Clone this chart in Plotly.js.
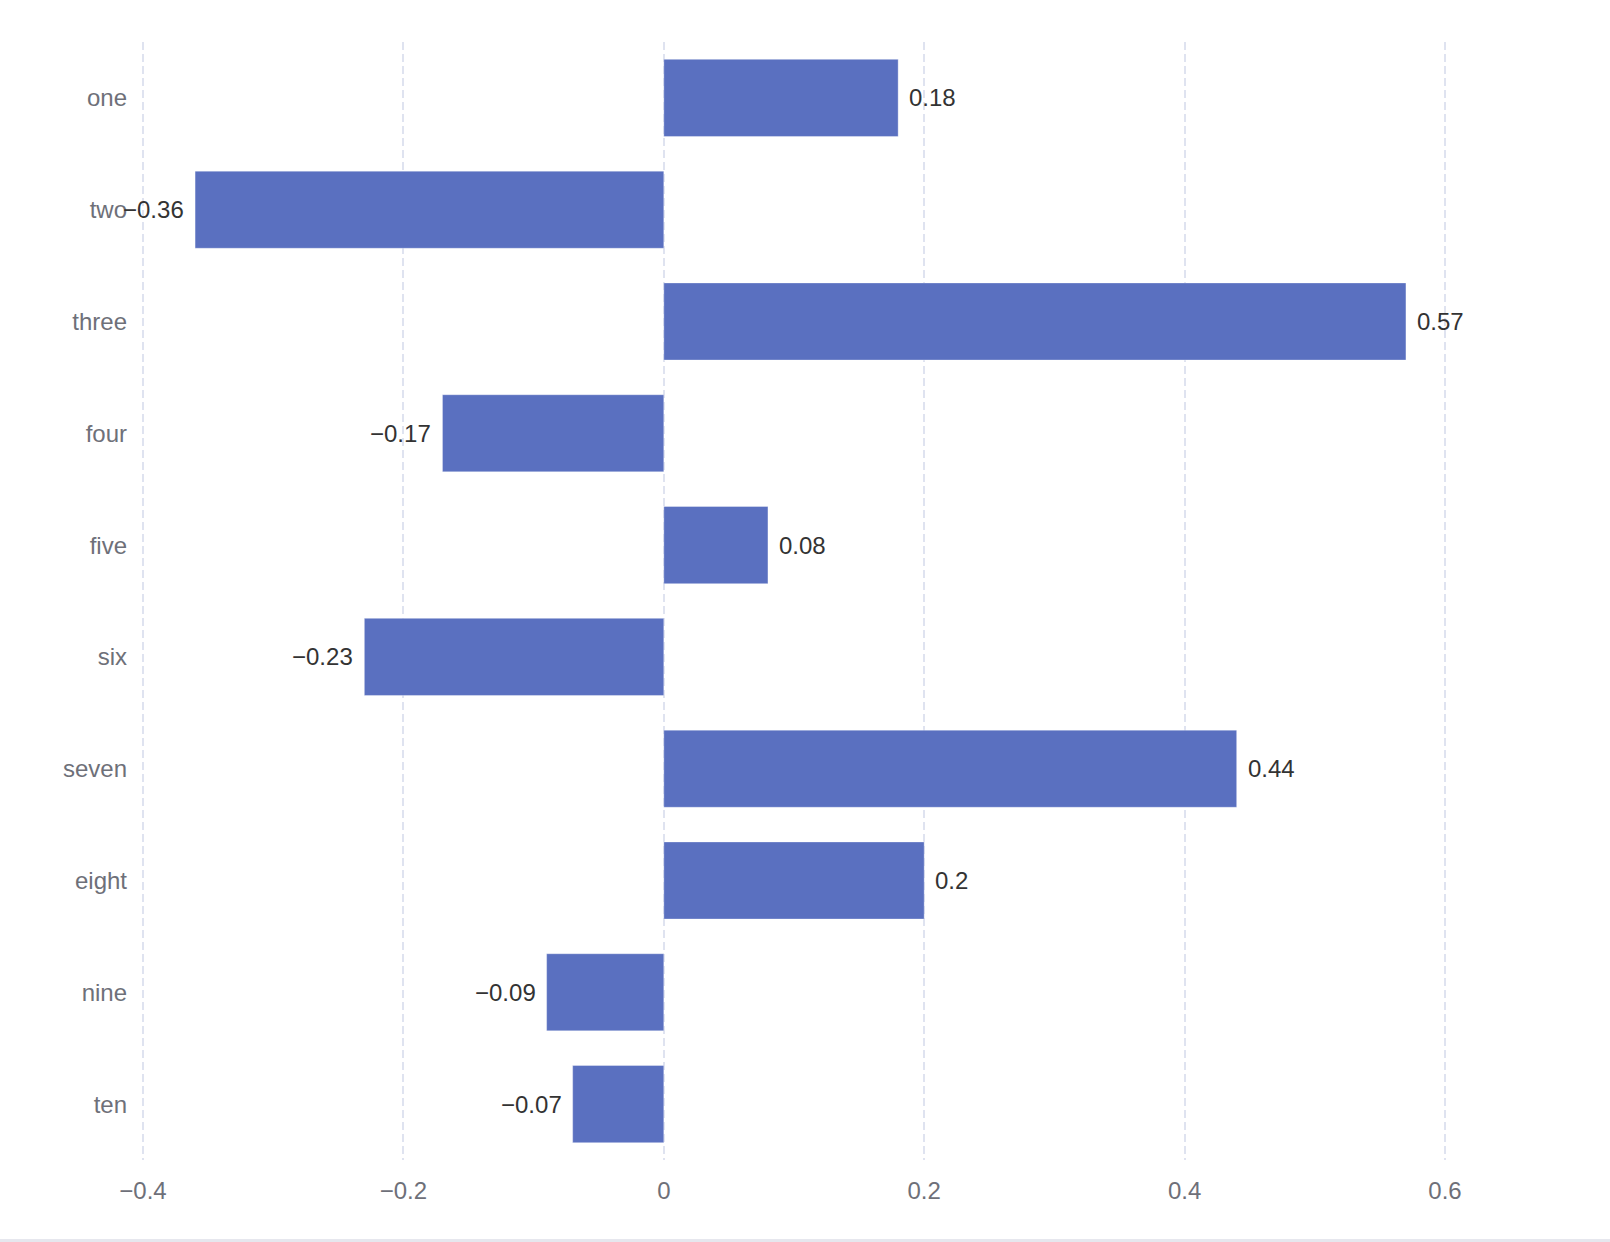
<!DOCTYPE html>
<html>
<head>
<meta charset="utf-8">
<script src="https://cdn.plot.ly/plotly-3.0.1.min.js"></script>
<style>
  html, body { margin: 0; padding: 0; background: #ffffff; }
  #chart { width: 1610px; height: 1239px; }
  #sep { width: 1610px; height: 3px; background: #e6e7ee; }
</style>
</head>
<body>
<div id="chart"></div>
<div id="sep"></div>
<script>
const categories = ['one', 'two', 'three', 'four', 'five', 'six', 'seven', 'eight', 'nine', 'ten'];
const values = [0.18, -0.36, 0.57, -0.17, 0.08, -0.23, 0.44, 0.2, -0.09, -0.07];
const xTickValues = [-0.4, -0.2, 0, 0.2, 0.4, 0.6];
const xTickLabels = ['\u22120.4', '\u22120.2', '0', '0.2', '0.4', '0.6'];

const fmt = v => (v < 0 ? '\u2212' : '') + String(Math.abs(v));

const trace = {
  type: 'bar',
  orientation: 'h',
  x: values,
  y: categories,
  marker: { color: '#5a70c0', line: { color: 'rgba(255,255,255,0.35)', width: 1 } },
  hoverinfo: 'x+y'
};

const annotations = values.map((v, i) => ({
  x: v,
  y: categories[i],
  xref: 'x',
  yref: 'y',
  text: fmt(v),
  showarrow: false,
  xanchor: v < 0 ? 'right' : 'left',
  xshift: v < 0 ? -9 : 9,
  font: { family: 'Liberation Sans, Arial, sans-serif', size: 24, color: '#333333' }
}));

const layout = {
  width: 1610,
  height: 1239,
  margin: { l: 140, r: 162, t: 42, b: 79 },
  paper_bgcolor: '#ffffff',
  plot_bgcolor: '#ffffff',
  showlegend: false,
  bargap: 0.31,
  font: { family: 'Liberation Sans, Arial, sans-serif', size: 24, color: '#6e7079' },
  xaxis: {
    range: [-0.4023, 0.6023],
    tickvals: xTickValues,
    ticktext: xTickLabels,
    showgrid: true,
    gridcolor: '#dfe3f0',
    gridwidth: 2,
    griddash: '8px,4px',
    zeroline: false,
    showline: false,
    ticks: '',
    ticklabelstandoff: 14,
    tickfont: { size: 24, color: '#6e7079' }
  },
  yaxis: {
    type: 'category',
    autorange: 'reversed',
    showgrid: false,
    zeroline: false,
    showline: false,
    ticks: '',
    ticklabelstandoff: 12,
    tickfont: { size: 24, color: '#6e7079' }
  },
  annotations: annotations
};

Plotly.newPlot('chart', [trace], layout, { displayModeBar: false, staticPlot: true });
</script>
</body>
</html>
